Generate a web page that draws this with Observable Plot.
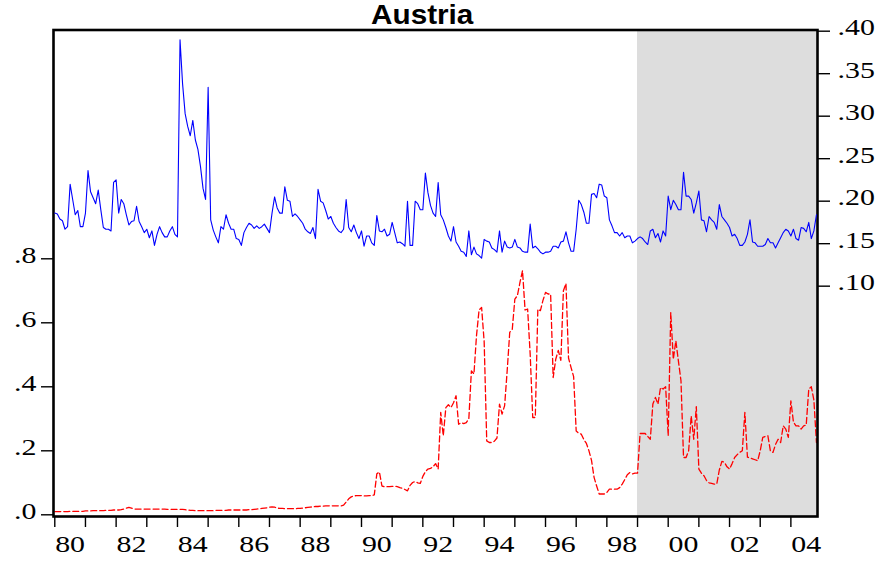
<!DOCTYPE html>
<html><head><meta charset="utf-8">
<script src="https://cdn.jsdelivr.net/npm/d3@7"></script>
<script src="https://cdn.jsdelivr.net/npm/@observablehq/plot@0.6"></script>
<style>
body{margin:0;background:#fff;}
#chart{position:relative;width:889px;height:566px;}
#chart svg{position:absolute;left:0;top:0;max-width:none;}
</style></head><body><div id="chart"></div>
<script>
const title = "Austria";
const startYear = 1980;            // first monthly observation: 1980M01
// red dashed series (left axis), monthly 1980M01..2004M11
const redValues = [
0.010,0.010,0.010,0.010,0.010,0.010,0.011,0.011,0.011,0.011,0.011,0.011,
0.012,0.012,0.012,0.013,0.013,0.013,0.013,0.013,0.014,0.014,0.014,0.015,
0.015,0.015,0.016,0.018,0.021,0.023,0.021,0.018,0.018,0.018,0.018,0.018,
0.018,0.018,0.018,0.018,0.018,0.018,0.018,0.018,0.017,0.017,0.017,0.017,
0.017,0.017,0.017,0.016,0.015,0.014,0.014,0.013,0.013,0.013,0.013,0.013,
0.013,0.013,0.013,0.014,0.014,0.014,0.014,0.014,0.015,0.015,0.015,0.015,
0.015,0.015,0.015,0.015,0.016,0.016,0.017,0.018,0.019,0.020,0.021,0.022,
0.024,0.025,0.024,0.021,0.020,0.020,0.019,0.019,0.019,0.019,0.019,0.020,
0.020,0.021,0.022,0.023,0.024,0.025,0.026,0.026,0.027,0.027,0.028,0.028,
0.028,0.028,0.028,0.028,0.028,0.030,0.040,0.050,0.056,0.059,0.060,0.060,
0.060,0.059,0.059,0.060,0.060,0.062,0.128,0.134,0.090,0.088,0.088,0.088,
0.089,0.089,0.088,0.085,0.083,0.079,0.075,0.092,0.101,0.104,0.100,0.098,
0.120,0.135,0.143,0.145,0.150,0.160,0.143,0.320,0.247,0.335,0.344,0.335,
0.350,0.372,0.283,0.288,0.285,0.288,0.300,0.450,0.440,0.560,0.640,0.648,
0.540,0.231,0.226,0.226,0.230,0.240,0.346,0.315,0.341,0.450,0.570,0.580,
0.674,0.685,0.726,0.763,0.640,0.643,0.502,0.304,0.304,0.643,0.638,0.670,
0.695,0.690,0.690,0.429,0.486,0.514,0.483,0.700,0.723,0.490,0.460,0.432,
0.262,0.255,0.252,0.235,0.223,0.200,0.170,0.117,0.090,0.065,0.065,0.065,
0.070,0.080,0.080,0.080,0.080,0.085,0.096,0.110,0.125,0.132,0.128,0.130,
0.130,0.254,0.254,0.254,0.245,0.236,0.346,0.367,0.346,0.398,0.393,0.400,
0.247,0.632,0.486,0.544,0.480,0.419,0.179,0.179,0.200,0.309,0.236,0.338,
0.143,0.130,0.122,0.107,0.100,0.098,0.096,0.096,0.140,0.167,0.164,0.150,
0.143,0.160,0.179,0.188,0.195,0.200,0.320,0.180,0.178,0.175,0.172,0.169,
0.200,0.242,0.245,0.247,0.199,0.195,0.220,0.236,0.226,0.278,0.268,0.242,
0.356,0.290,0.278,0.278,0.268,0.278,0.280,0.393,0.400,0.359,0.226
];
// blue solid series (right axis), monthly 1980M01..2004M11
const blueValues = [
0.186,0.185,0.179,0.177,0.167,0.170,0.220,0.202,0.184,0.189,0.170,0.170,
0.186,0.236,0.211,0.204,0.197,0.213,0.190,0.169,0.167,0.167,0.165,0.222,
0.225,0.186,0.202,0.197,0.184,0.172,0.176,0.177,0.194,0.176,0.170,0.163,
0.167,0.157,0.165,0.148,0.161,0.170,0.163,0.158,0.158,0.165,0.170,0.161,
0.158,0.390,0.338,0.303,0.288,0.277,0.295,0.272,0.261,0.241,0.215,0.202,
0.334,0.178,0.166,0.158,0.151,0.170,0.167,0.184,0.174,0.167,0.167,0.156,
0.155,0.148,0.163,0.169,0.174,0.172,0.168,0.171,0.168,0.170,0.173,0.168,
0.163,0.186,0.205,0.192,0.186,0.186,0.217,0.201,0.200,0.182,0.185,0.182,
0.178,0.174,0.167,0.164,0.162,0.169,0.156,0.214,0.200,0.198,0.189,0.179,
0.182,0.174,0.169,0.165,0.163,0.167,0.202,0.169,0.164,0.172,0.163,0.156,
0.165,0.147,0.159,0.159,0.151,0.148,0.183,0.165,0.164,0.167,0.159,0.161,
0.175,0.163,0.151,0.152,0.150,0.147,0.200,0.148,0.148,0.200,0.197,0.190,
0.190,0.233,0.210,0.195,0.186,0.182,0.222,0.184,0.178,0.169,0.159,0.153,
0.170,0.152,0.147,0.141,0.140,0.135,0.165,0.137,0.146,0.138,0.136,0.133,
0.155,0.153,0.152,0.145,0.143,0.140,0.165,0.140,0.153,0.146,0.145,0.146,
0.155,0.146,0.145,0.141,0.140,0.140,0.173,0.145,0.147,0.144,0.140,0.138,
0.140,0.140,0.141,0.147,0.147,0.145,0.152,0.153,0.164,0.151,0.141,0.141,
0.167,0.201,0.196,0.187,0.174,0.174,0.208,0.209,0.204,0.220,0.219,0.206,
0.204,0.178,0.171,0.163,0.163,0.159,0.163,0.157,0.159,0.159,0.151,0.153,
0.156,0.158,0.156,0.152,0.149,0.165,0.167,0.157,0.162,0.152,0.165,0.159,
0.206,0.190,0.201,0.196,0.190,0.190,0.234,0.206,0.206,0.202,0.186,0.198,
0.212,0.178,0.177,0.164,0.182,0.178,0.175,0.167,0.196,0.182,0.178,0.174,
0.169,0.159,0.161,0.156,0.148,0.148,0.152,0.161,0.178,0.152,0.151,0.147,
0.147,0.147,0.149,0.156,0.151,0.151,0.145,0.151,0.157,0.163,0.167,0.165,
0.159,0.167,0.156,0.154,0.169,0.168,0.164,0.175,0.156,0.165,0.184
];
const leftTicks  = [0, 0.2, 0.4, 0.6, 0.8];
const rightTicks = [0.10, 0.15, 0.20, 0.25, 0.30, 0.35, 0.40];
const tickYears  = [1980,1981,1982,1983,1984,1985,1986,1987,1988,1989,1990,1991,1992,
                    1993,1994,1995,1996,1997,1998,1999,2000,2001,2002,2003,2004];
const labelYears = [1980,1982,1984,1986,1988,1990,1992,1994,1996,1998,2000,2002,2004];
const shadeStart = 1999;

const xDomain = [1979.958, 2004.868];
const leftDomain = [-0.0053, 1.515];
const rightDomain = [-0.171, 0.4014];

const red = redValues.map((v, i) => ({date: startYear + i / 12, value: v}));
const blue = blueValues.map((v, i) => ({date: startYear + i / 12, value: v}));

const W = 889, H = 566;
const margins = {marginTop: 29.5, marginBottom: 50, marginLeft: 53, marginRight: 72};
const serif = "'Liberation Serif', 'Times New Roman', serif";
const commonStyle = {fontFamily: serif, fontSize: "23px", background: "transparent", overflow: "visible"};
const twoDigit = d => String(Math.floor(d) % 100).padStart(2, "0");

const base = Plot.plot({
  width: W, height: H, ...margins,
  style: commonStyle,
  x: {domain: xDomain, label: null},
  y: {domain: leftDomain, label: null},
  marks: [
    Plot.rect([{x1: shadeStart, x2: xDomain[1]}], {x1: "x1", x2: "x2", fill: "#dddddd"}),
    Plot.line(red, {x: "date", y: "value", stroke: "#ff0000", strokeWidth: 1.3, strokeDasharray: "6,3"}),
    Plot.axisY(leftTicks, {anchor: "left", tickSize: 12, strokeWidth: 1.4, tickFormat: () => ""}),
    Plot.axisY(leftTicks, {anchor: "left", tickSize: 0, tickPadding: 17, dy: -3.5,
      tickFormat: d => d3.format(".1f")(d).replace(/^0/, "")}),
    Plot.axisX(tickYears, {anchor: "bottom", tickSize: 11, strokeWidth: 1.4, tickFormat: () => ""}),
    Plot.axisX(labelYears.map(y => y + 0.5), {anchor: "bottom", tickSize: 0, tickPadding: 19.5, tickFormat: twoDigit}),
    Plot.frame({stroke: "black", strokeWidth: 2.6}),
    Plot.text([title], {text: d => d, frameAnchor: "top", dx: -13.3, dy: -14.7, lineAnchor: "middle",
      fontSize: 27, fontWeight: "bold", fontFamily: "'Liberation Sans', Arial, sans-serif"})
  ]
});

const over = Plot.plot({
  width: W, height: H, ...margins,
  style: commonStyle,
  x: {domain: xDomain, axis: null, label: null},
  y: {domain: rightDomain, label: null},
  marks: [
    Plot.line(blue, {x: "date", y: "value", stroke: "#0000ff", strokeWidth: 1.1}),
    Plot.axisY(rightTicks, {anchor: "right", tickSize: 12, strokeWidth: 1.4, tickFormat: () => ""}),
    Plot.axisY(rightTicks, {anchor: "right", tickSize: 0, tickPadding: 20, dy: -3.5,
      tickFormat: d => d3.format(".2f")(d).replace(/^0/, "")})
  ]
});

const chart = document.getElementById("chart");
chart.appendChild(base);
chart.appendChild(over);

function stretch(svg, selector, s) {
  svg.querySelectorAll(selector).forEach(t => {
    const x = +t.getAttribute("x") || 0;
    const y = +t.getAttribute("y") || 0;
    const tr = t.getAttribute("transform") || "";
    t.setAttribute("transform", `${tr} translate(${x},${y}) scale(${s},1) translate(${-x},${-y})`);
  });
}
stretch(base, 'g[aria-label$="tick label"] text', 1.3);
stretch(over, 'g[aria-label$="tick label"] text', 1.3);
stretch(base, 'g[aria-label="text"] text', 1.1);
</script>
</body></html>
